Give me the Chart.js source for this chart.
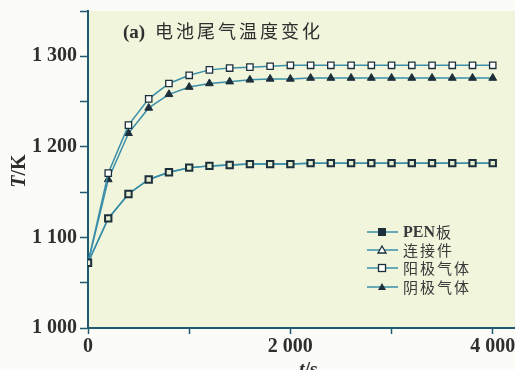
<!DOCTYPE html>
<html>
<head>
<meta charset="utf-8">
<script src="https://cdn.jsdelivr.net/npm/chart.js@4/dist/chart.umd.min.js"></script>
<style>
  html, body { margin: 0; padding: 0; background: #fbfcf7; }
  #wrap { width: 515px; height: 370px; position: relative; }
</style>
</head>
<body>
<div id="wrap"><canvas id="c" width="515" height="370"></canvas></div>
<script>
// ============================================================================
// Data
// ============================================================================

const TIMES = [0, 200, 400, 600, 800, 1000, 1200, 1400, 1600, 1800, 2000,
  2200, 2400, 2600, 2800, 3000, 3200, 3400, 3600, 3800, 4000];

const PEN_TEMPS = [1072, 1121, 1148, 1164, 1172, 1177, 1179, 1180, 1181, 1181, 1181,
  1182, 1182, 1182, 1182, 1182, 1182, 1182, 1182, 1182, 1182];
const CONNECTOR_TEMPS = PEN_TEMPS.slice();
const ANODE_TEMPS = [1072, 1171, 1224, 1253, 1270, 1279, 1285, 1287, 1288, 1289, 1290,
  1290, 1290, 1290, 1290, 1290, 1290, 1290, 1290, 1290, 1290];
const CATHODE_TEMPS = [1072, 1164, 1215, 1243, 1258, 1266, 1270, 1272, 1274, 1275, 1275,
  1276, 1276, 1276, 1276, 1276, 1276, 1276, 1276, 1276, 1276];

const SERIES_NAMES = ['PEN板', '连接件', '阳极气体', '阴极气体'];
const X_TICKS = [0, 1000, 2000, 3000, 4000];
const Y_TICKS = [1000, 1050, 1100, 1150, 1200, 1250, 1300, 1350];
const TITLE = '电池尾气温度变化';

// ============================================================================
// Styling
// ============================================================================

const LINE_COLOR = '#3a8ea8';
const MARK_COLOR = '#1c2f3a';
const AXIS_COLOR = '#1f5a70';
const TEXT_COLOR = '#2e2e2e';
const PLOT_BG = '#f0f5dc';
const SERIF = "'Liberation Serif', 'DejaVu Serif', serif";
const CJK = "'Noto Sans CJK SC', sans-serif";

function fmt(v) {
  const s = String(v);
  return s.length > 3 ? s.slice(0, s.length - 3) + ' ' + s.slice(-3) : s;
}

function toPoints(vals) {
  return TIMES.map((t, i) => ({ x: t, y: vals[i] }));
}

// Plot background + axis titles + chart title + legend
const decor = {
  id: 'decor',
  beforeDraw(chart) {
    const { ctx, chartArea: a } = chart;
    ctx.save();
    ctx.fillStyle = PLOT_BG;
    ctx.fillRect(a.left, a.top, a.right - a.left, a.bottom - a.top);
    ctx.restore();
  },
  afterDraw(chart) {
    const { ctx } = chart;
    ctx.save();
    ctx.fillStyle = TEXT_COLOR;
    ctx.textBaseline = 'alphabetic';

    // title
    ctx.font = "bold 19px " + SERIF;
    ctx.fillText('(a)', 123, 38);
    ctx.font = "18px " + CJK;
    ctx.letterSpacing = '3px';
    ctx.fillText(TITLE, 155, 38);
    ctx.letterSpacing = '0px';

    // y title
    ctx.save();
    ctx.translate(25, 171);
    ctx.rotate(-Math.PI / 2);
    ctx.textAlign = 'left';
    ctx.font = "italic bold 20px " + SERIF;
    const tw = ctx.measureText('T').width;
    ctx.font = "bold 20px " + SERIF;
    const rw = ctx.measureText('/K').width;
    const start = -(tw + rw) / 2;
    ctx.font = "italic bold 20px " + SERIF;
    ctx.fillText('T', start, 0);
    ctx.font = "bold 20px " + SERIF;
    ctx.fillText('/K', start + tw, 0);
    ctx.restore();

    // x title
    ctx.font = "italic bold 20px " + SERIF;
    ctx.fillText('t', 299, 376);
    const tw2 = ctx.measureText('t').width;
    ctx.font = "bold 20px " + SERIF;
    ctx.fillText('/s', 299 + tw2, 376);

    // legend
    const rows = [232, 250, 268, 287];
    rows.forEach((y, i) => {
      ctx.strokeStyle = LINE_COLOR;
      ctx.lineWidth = 1.5;
      ctx.beginPath();
      ctx.moveTo(367, y);
      ctx.lineTo(398, y);
      ctx.stroke();
      ctx.lineWidth = 1.3;
      ctx.strokeStyle = MARK_COLOR;
      ctx.fillStyle = MARK_COLOR;
      const cx = 382;
      if (i === 0) {
        ctx.fillRect(cx - 4, y - 4, 8, 8);
      } else if (i === 2) {
        ctx.fillStyle = '#ffffff';
        ctx.fillRect(cx - 3.5, y - 3.5, 7, 7);
        ctx.strokeRect(cx - 3.5, y - 3.5, 7, 7);
      } else {
        ctx.beginPath();
        ctx.moveTo(cx, y - 4);
        ctx.lineTo(cx + 4, y + 3);
        ctx.lineTo(cx - 4, y + 3);
        ctx.closePath();
        if (i === 3) { ctx.fill(); } else { ctx.fillStyle = '#ffffff'; ctx.fill(); ctx.stroke(); }
      }
      ctx.fillStyle = '#3a3a3a';
      ctx.textBaseline = 'middle';
      if (i === 0) {
        ctx.font = "bold 16px " + SERIF;
        ctx.fillText('PEN', 403, y + 1);
        const pw = ctx.measureText('PEN').width;
        ctx.font = "15px " + CJK;
        ctx.fillText('板', 403 + pw + 1, y);
      } else {
        ctx.font = "15px " + CJK;
        ctx.letterSpacing = '2px';
        ctx.fillText(SERIES_NAMES[i], 403, y);
        ctx.letterSpacing = '0px';
      }
    });
    ctx.restore();
  }
};

const ctx = document.getElementById('c').getContext('2d');

new Chart(ctx, {
  type: 'line',
  data: {
    datasets: [
      {
        label: SERIES_NAMES[0],
        data: toPoints(PEN_TEMPS),
        borderColor: LINE_COLOR,
        borderWidth: 1.5,
        pointStyle: 'rect',
        pointRadius: 4.5,
        pointBorderWidth: 2,
        pointBorderColor: MARK_COLOR,
        pointBackgroundColor: '#e6eed2'
      },
      {
        label: SERIES_NAMES[1],
        data: toPoints(CONNECTOR_TEMPS),
        borderColor: LINE_COLOR,
        borderWidth: 1.5,
        pointStyle: 'triangle',
        pointRadius: 3,
        pointBorderWidth: 1,
        pointBorderColor: MARK_COLOR,
        pointBackgroundColor: '#ffffff'
      },
      {
        label: SERIES_NAMES[2],
        data: toPoints(ANODE_TEMPS),
        borderColor: LINE_COLOR,
        borderWidth: 1.5,
        pointStyle: 'rect',
        pointRadius: 4.5,
        pointBorderWidth: 1.3,
        pointBorderColor: MARK_COLOR,
        pointBackgroundColor: '#ffffff'
      },
      {
        label: SERIES_NAMES[3],
        data: toPoints(CATHODE_TEMPS),
        borderColor: LINE_COLOR,
        borderWidth: 1.5,
        pointStyle: 'triangle',
        pointRadius: 4.5,
        pointBorderWidth: 1,
        pointBorderColor: MARK_COLOR,
        pointBackgroundColor: MARK_COLOR
      }
    ]
  },
  options: {
    responsive: false,
    animation: false,
    layout: { autoPadding: false, padding: { top: 11, right: 0, left: 0, bottom: 0 } },
    plugins: {
      legend: { display: false },
      tooltip: { enabled: false }
    },
    scales: {
      x: {
        type: 'linear',
        min: 0,
        max: 4220,
        afterBuildTicks: s => { s.ticks = X_TICKS.map(v => ({ value: v })); },
        afterFit: s => { s.height = 42; s.paddingRight = 0; s.paddingLeft = 0; },
        border: { color: AXIS_COLOR, width: 2 },
        grid: { drawOnChartArea: false, tickLength: 6, tickColor: AXIS_COLOR, tickWidth: 1.5 },
        ticks: {
          color: TEXT_COLOR,
          padding: 1,
          maxRotation: 0,
          autoSkip: false,
          font: { family: SERIF, size: 20, weight: 'bold' },
          callback: v => (v % 2000 === 0 ? fmt(v) : '')
        }
      },
      y: {
        type: 'linear',
        min: 1000,
        max: 1350,
        afterBuildTicks: s => { s.ticks = Y_TICKS.map(v => ({ value: v })); },
        afterFit: s => { s.width = 88; s.paddingTop = 0; s.paddingBottom = 0; },
        border: { color: AXIS_COLOR, width: 2 },
        grid: { drawOnChartArea: false, tickLength: 8, tickColor: AXIS_COLOR, tickWidth: 1.5 },
        ticks: {
          color: TEXT_COLOR,
          padding: 3,
          autoSkip: false,
          font: { family: SERIF, size: 20, weight: 'bold' },
          callback: v => (v % 100 === 0 && v <= 1300 ? fmt(v) : '')
        }
      }
    }
  },
  plugins: [decor]
});
</script>
</body>
</html>
